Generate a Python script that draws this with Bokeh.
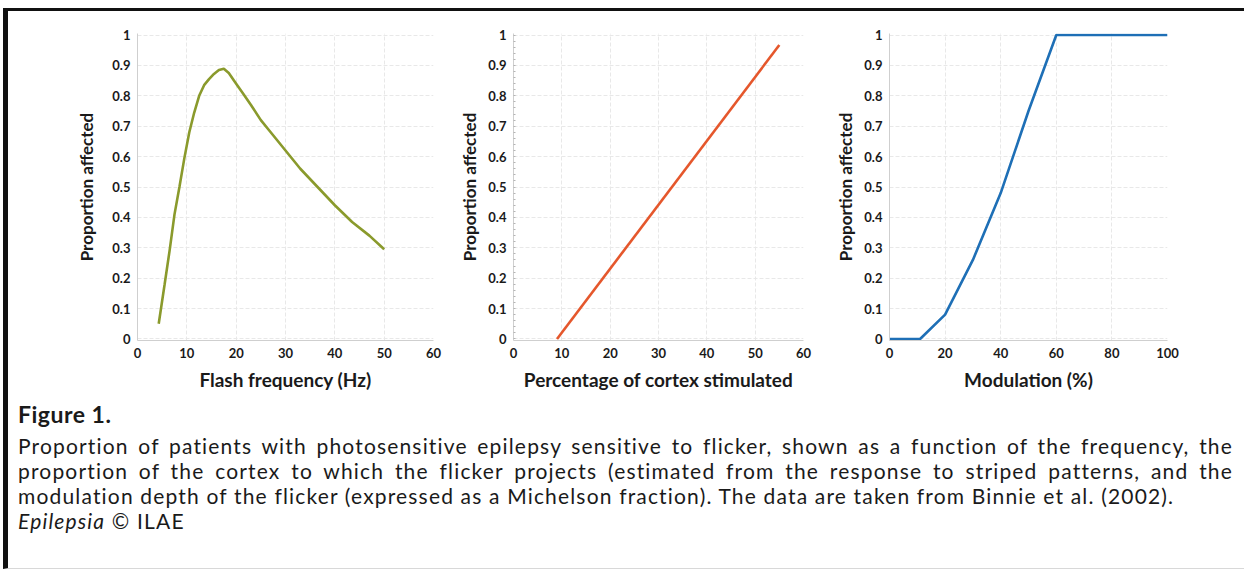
from bokeh.plotting import figure
from bokeh.models import Range1d, FixedTicker, CustomJSTickFormatter, Div
from bokeh.layouts import row, column
from bokeh.embed import file_html
from bokeh.resources import INLINE

# ---- data ----
flash_hz = [4.3, 5.5, 6.5, 7.5, 8.5, 9.5, 10.5, 11.5, 12.5, 13.5, 14.5, 15.5, 16.5, 17.5,
            18.5, 20, 21.5, 23, 25, 27, 30, 33, 36.5, 40, 43.5, 47, 50]
flash_prop = [0.05, 0.18, 0.29, 0.41, 0.50, 0.595, 0.68, 0.745, 0.80, 0.835, 0.855, 0.872,
              0.885, 0.889, 0.875, 0.84, 0.805, 0.77, 0.72, 0.68, 0.62, 0.56, 0.50, 0.44,
              0.385, 0.34, 0.295]

cortex_pct = [9, 55]
cortex_prop = [0.0, 0.967]

modulation_pct = [0, 11, 20, 30, 40, 50, 60, 70, 80, 90, 100]
modulation_prop = [0.0, 0.0, 0.08, 0.26, 0.48, 0.75, 1.0, 1.0, 1.0, 1.0, 1.0]

y_ticks = [0, 0.1, 0.2, 0.3, 0.4, 0.5, 0.6, 0.7, 0.8, 0.9, 1.0]
x_ticks_60 = [0, 10, 20, 30, 40, 50, 60]
x_ticks_100 = [0, 20, 40, 60, 80, 100]

x_titles = ["Flash frequency (Hz)", "Percentage of cortex stimulated", "Modulation (%)"]
y_title = "Proportion affected"
caption_title = "Figure 1."
caption_lines = [
    "Proportion of patients with photosensitive epilepsy sensitive to flicker, shown as a function of the frequency, the",
    "proportion of the cortex to which the flicker projects (estimated from the response to striped patterns, and the",
    "modulation depth of the flicker (expressed as a Michelson fraction). The data are taken from Binnie et al. (2002).",
]

FONT = "Lato"


def make_fig(xs, ys, color, xtitle, xticks, xmax, fw, bl, br, ytitle_gap, minor=False):
    p = figure(frame_width=fw, frame_height=307, output_backend="svg", toolbar_location=None,
               x_range=Range1d(0, xmax), y_range=Range1d(-0.005, 1.005),
               min_border_left=bl, min_border_right=br, min_border_top=22,
               min_border_bottom=60)
    p.outline_line_color = None
    p.background_fill_color = "white"
    p.border_fill_color = "white"
    p.xaxis.ticker = FixedTicker(ticks=xticks)
    p.yaxis.ticker = FixedTicker(ticks=y_ticks,
                                 minor_ticks=[i / 50 for i in range(51)] if minor else [])
    p.yaxis.formatter = CustomJSTickFormatter(code="return (Math.round(tick*10)/10).toString();")
    for ax in (p.xaxis[0], p.yaxis[0]):
        ax.axis_line_color = "#cfcfcf"
        ax.axis_line_width = 1
        ax.major_tick_line_color = None
        ax.major_tick_out = 0
        ax.major_tick_in = 0
        ax.minor_tick_line_color = None
        ax.minor_tick_out = 0
        ax.minor_tick_in = 0
        ax.major_label_text_font = FONT
        ax.major_label_text_font_style = "bold"
        ax.major_label_text_font_size = "13px"
        ax.major_label_text_color = "#1a1a1a"
        ax.axis_label_text_font = FONT
        ax.axis_label_text_font_style = "bold"
        ax.axis_label_text_color = "#1a1a1a"
    if minor:
        p.yaxis.minor_tick_line_color = "#b5b5b5"
        p.yaxis.minor_tick_in = 2
    p.xaxis.axis_label_text_font_size = "19px"
    p.yaxis.axis_label_text_font_size = "17px"
    p.xaxis.major_label_standoff = 7
    p.yaxis.major_label_standoff = 7
    p.xaxis.axis_label = xtitle
    p.yaxis.axis_label = y_title
    p.xaxis.axis_label_standoff = 7
    p.yaxis.axis_label_standoff = ytitle_gap
    p.xgrid.grid_line_color = "#e8e8e8"
    p.ygrid.grid_line_color = "#e8e8e8"
    p.xgrid.grid_line_dash = "4 2"
    p.ygrid.grid_line_dash = "4 2"
    p.line(xs, ys, line_color=color, line_width=2.6)
    return p


p1 = make_fig(flash_hz, flash_prop, "#8a9a2c", x_titles[0], x_ticks_60, 60, 296, 129, 12, 12)
p2 = make_fig(cortex_pct, cortex_prop, "#e5572c", x_titles[1], x_ticks_60, 60, 290, 68, 22, 5,
              minor=True)
p3 = make_fig(modulation_pct, modulation_prop, "#1e6fb6", x_titles[2], x_ticks_100, 100,
              278, 64, 73, 5)

just = "text-align:justify;text-align-last:justify;"
body = "font-size:21px;line-height:25px;letter-spacing:1.17px;"
html = (
    f'<div style="font-family:{FONT};color:#1a1a1a;width:1220px;padding-left:5px;">'
    f'<div style="font-weight:bold;font-size:23px;line-height:24px;letter-spacing:0.5px;margin-top:-3px;margin-bottom:7px;">{caption_title}</div>'
    f'<div style="{body}{just}">{caption_lines[0]}</div>'
    f'<div style="{body}{just}">{caption_lines[1]}</div>'
    f'<div style="{body}">{caption_lines[2]}</div>'
    f'<div style="{body}"><i>Epilepsia</i> &copy; ILAE</div>'
    '</div>'
)
caption = Div(text=html, width=1232, height=158)

charts = row(p1, p2, p3)
layout = column(charts, caption, margin=(8, 0, 0, 3),
                styles={"border-top": "3px solid #111", "border-left": "5px solid #111",
                        "border-bottom": "1px solid #d8d8d8", "background": "white"})

open("out.html", "w").write(file_html(layout, INLINE))
